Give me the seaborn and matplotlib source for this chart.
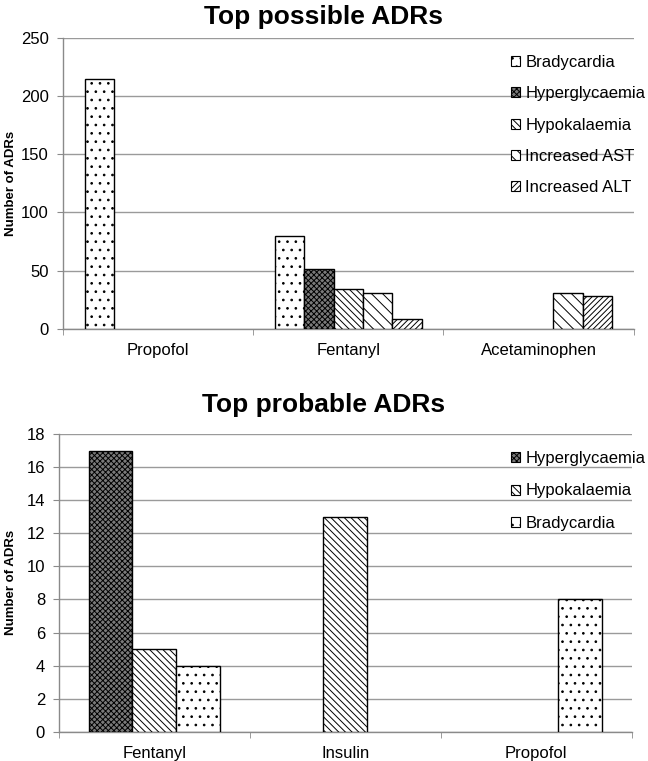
import pandas as pd
import matplotlib
matplotlib.use('Agg')
import matplotlib.pyplot as plt
import matplotlib.transforms as mtransforms
import seaborn as sns

# Top possible ADRs
top_drugs = ['Propofol', 'Fentanyl', 'Acetaminophen']
top_adrs = ['Bradycardia', 'Hyperglycaemia', 'Hypokalaemia', 'Increased AST', 'Increased ALT']
top_values = {
    'Bradycardia':    [215, 80, 0],
    'Hyperglycaemia': [0, 51, 0],
    'Hypokalaemia':   [0, 34, 0],
    'Increased AST':  [0, 31, 31],
    'Increased ALT':  [0, 8, 28],
}

# Top probable ADRs
bot_drugs = ['Fentanyl', 'Insulin', 'Propofol']
bot_adrs = ['Hyperglycaemia', 'Hypokalaemia', 'Bradycardia']
bot_values = {
    'Hyperglycaemia': [17, 0, 0],
    'Hypokalaemia':   [5, 13, 0],
    'Bradycardia':    [4, 0, 8],
}

# pattern style per ADR (facecolor, hatch)
styles = {
    'Bradycardia':    ('white', '..'),
    'Hyperglycaemia': ('#7a7a7a', 'xxxxxx'),
    'Hypokalaemia':   ('white', '\\\\\\\\\\'),
    'Increased AST':  ('white', '\\\\\\'),
    'Increased ALT':  ('white', '//////'),
}

plt.rcParams['font.family'] = ['Liberation Sans', 'DejaVu Sans']
plt.rcParams['hatch.linewidth'] = 0.7


def long_df(drugs, adrs, values):
    rows = []
    for adr in adrs:
        for d, v in zip(drugs, values[adr]):
            rows.append({'drug': d, 'adr': adr, 'n': v})
    return pd.DataFrame(rows)


def draw(ax, drugs, adrs, values, ymax, step, width, legend_xy, spacing):
    df = long_df(drugs, adrs, values)
    sns.barplot(data=df, x='drug', y='n', hue='adr', order=drugs, hue_order=adrs,
                palette=['white'] * len(adrs), width=width, edgecolor='black',
                linewidth=1.0, legend=False, ax=ax, zorder=3)
    for adr, cont in zip(adrs, ax.containers):
        fc, h = styles[adr]
        for bar in cont:
            bar.set_facecolor(fc)
            bar.set_hatch(h)
            bar.set_edgecolor('black')
            if bar.get_height() == 0:
                bar.set_visible(False)
    ax.set_ylim(0, ymax)
    ax.set_yticks(range(0, ymax + 1, step))
    ax.set_xlim(-0.5, len(drugs) - 0.5)
    ax.yaxis.grid(True, color='#9a9a9a', linewidth=1.0, zorder=0)
    ax.xaxis.grid(False)
    ax.set_axisbelow(True)
    for s in ['top', 'right']:
        ax.spines[s].set_visible(False)
    for s in ['left', 'bottom']:
        ax.spines[s].set_color('#8a8a8a')
        ax.spines[s].set_linewidth(1.0)
    ax.set_xlabel('')
    ax.set_yticks(range(0, ymax + 1, step))
    ax.tick_params(axis='x', which='major', length=0, labelsize=12, pad=10)
    ax.set_xticks([i + 0.5 for i in range(-1, len(drugs))], minor=True)
    ax.tick_params(axis='x', which='minor', length=4, color='#8a8a8a', direction='out')
    ax.tick_params(axis='y', length=4, color='#8a8a8a', labelsize=12, pad=6)
    ax.set_ylabel('')
    # y label placed in figure x, axes y
    tr = mtransforms.blended_transform_factory(ax.figure.transFigure, ax.transAxes)
    ax.text(11 / 648, 0.5, 'Number of ADRs', transform=tr, rotation=90,
            ha='center', va='center', fontsize=9.5, fontweight='bold')
    handles = [plt.Rectangle((0, 0), 1, 1, facecolor=styles[a][0], hatch=styles[a][1],
                             edgecolor='black', linewidth=0.8) for a in adrs]
    ax.legend(handles, adrs, loc='upper left', bbox_to_anchor=legend_xy,
              bbox_transform=ax.figure.transFigure, frameon=False, fontsize=12,
              handlelength=0.55, handleheight=0.55, handletextpad=0.3,
              labelspacing=spacing, borderpad=0, borderaxespad=0)


fig = plt.figure(figsize=(6.48, 7.61), dpi=100)
ax1 = fig.add_axes([0.097, 0.568, 0.881, 0.382])
ax2 = fig.add_axes([0.091, 0.0385, 0.884, 0.391])

draw(ax1, top_drugs, top_adrs, top_values, 250, 50, 0.77, (511 / 648, 1 - 55 / 761), 0.98)
draw(ax2, bot_drugs, bot_adrs, bot_values, 18, 2, 0.69, (511 / 648, 1 - 451 / 761), 1.05)

fig.text(0.5, 1 - 17 / 761, 'Top possible ADRs', ha='center', va='center',
         fontsize=19, fontweight='bold')
fig.text(0.5, 1 - 405 / 761, 'Top probable ADRs', ha='center', va='center',
         fontsize=19, fontweight='bold')

fig.savefig('out.png', dpi=100, facecolor='white')
